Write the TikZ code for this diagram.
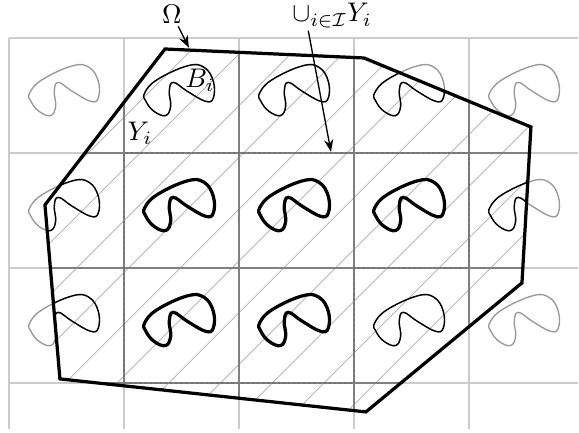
\documentclass[tikz,border=0pt]{standalone}
\usetikzlibrary{arrows.meta}
\usepackage{amsmath}
\tikzset{
  gridline/.style={draw=black!20, line width=0.6pt},
  gridinner/.style={draw=black!50, line width=0.6pt},
  hatch/.style={draw=black!28, line width=0.3pt},
  cellout/.style={draw=black!40, line width=0.5pt},
  cellin/.style={draw=black, line width=0.5pt},
  cellfull/.style={draw=black, line width=1.2pt},
  unionline/.style={draw=black!55, densely dotted, line width=0.9pt},
  omegaline/.style={draw=black, line width=1.2pt, line join=miter},
  label/.style={inner sep=1pt},
  arrow/.style={-{Stealth[length=1.6mm]}, line width=0.5pt},
  incl/.pic={
    \draw[pic actions] plot[smooth cycle, tension=0.7] coordinates {
      (0.180,0.522) (0.290,0.638) (0.551,0.757) (0.696,0.745) (0.777,0.623)
      (0.777,0.478) (0.710,0.449) (0.551,0.536) (0.429,0.614) (0.394,0.536)
      (0.406,0.406) (0.362,0.325) (0.261,0.362) (0.191,0.449)};
  }
}
\begin{document}
\begin{tikzpicture}[x=1.5cm, y=1.5cm]
  \useasboundingbox (-0.078,-0.435) rectangle (4.957,3.330);
  \coordinate (o1) at (1.357,2.904);
  \coordinate (o2) at (3.087,2.826);
  \coordinate (o3) at (4.539,2.226);
  \coordinate (o4) at (4.461,0.870);
  \coordinate (o5) at (3.104,-0.252);
  \coordinate (o6) at (0.443,0.035);
  \coordinate (o7) at (0.313,1.548);
  % periodic grid and inclusions
  \foreach \i in {0,...,4} \draw[gridline] (\i,-0.4) -- (\i,3);
  \foreach \j in {0,...,3} \draw[gridline] (0,\j) -- (4.95,\j);
  \foreach \i in {0,...,4} \foreach \j in {0,1,2} \pic[cellout] at (\i,\j) {incl};
  % inside the domain
  \begin{scope}
    \clip (o1) -- (o2) -- (o3) -- (o4) -- (o5) -- (o6) -- (o7) -- cycle;
    \foreach \k in {-7,...,5} \draw[hatch] ({1.39+0.45*\k-1},-1) -- ++(5,5);
    \foreach \i in {0,...,4} \draw[gridinner] (\i,-0.4) -- (\i,3);
    \foreach \j in {0,...,3} \draw[gridinner] (0,\j) -- (4.95,\j);
    \foreach \i in {0,...,4} \foreach \j in {0,1,2} \pic[cellin] at (\i,\j) {incl};
  \end{scope}
  \draw[unionline] (1,0) -- (3,0) -- (3,1) -- (4,1) -- (4,2) -- (1,2) -- cycle;
  \foreach \c in {{1,1},{2,1},{3,1},{1,0},{2,0}} \pic[cellfull] at (\c) {incl};
  \draw[omegaline] (o1) -- (o2) -- (o3) -- (o4) -- (o5) -- (o6) -- (o7) -- cycle;
  % labels
  \node[label] (omega) at (1.417,3.209) {$\Omega$};
  \coordinate (omegatip) at (1.565,2.915);
  \draw[arrow] (omega) -- (omegatip);
  \node[label] (union) at (2.81,3.195) {$\cup_{i\in\mathcal{I}}Y_i$};
  \coordinate (uniontip) at (2.80,2.01);
  \draw[arrow] ([xshift=2.5mm]union.south west) -- (uniontip);
  \node[label] (bi) at (1.661,2.635) {$B_i$};
  \node[label] (yi) at (1.139,2.174) {$Y_i$};
\end{tikzpicture}
\end{document}
